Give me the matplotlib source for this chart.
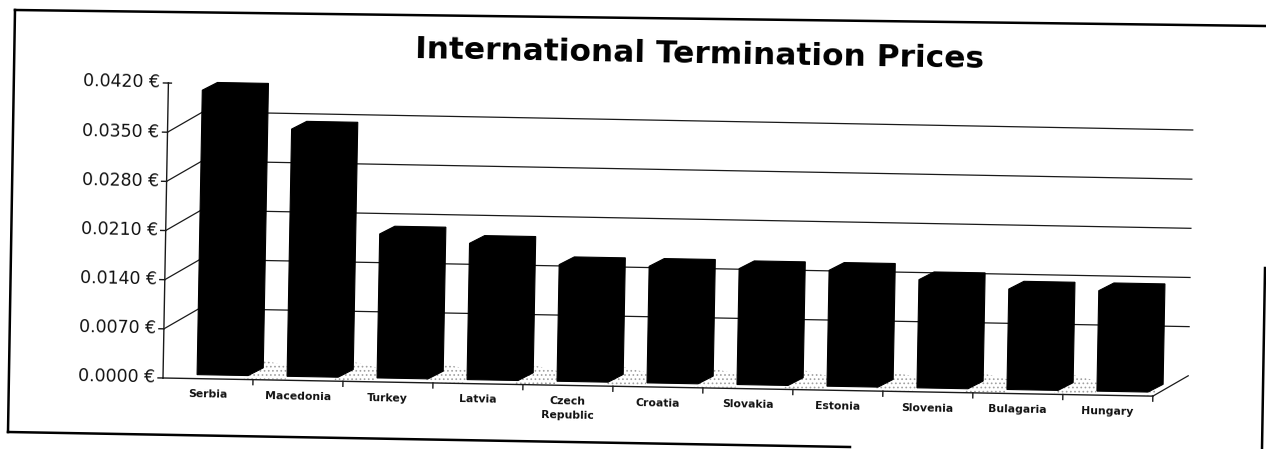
import matplotlib
matplotlib.use('Agg')
import matplotlib.pyplot as plt
from matplotlib.patches import Polygon
from matplotlib.lines import Line2D
from matplotlib.transforms import Affine2D

# ---------------- data ----------------
categories = ['Serbia', 'Macedonia', 'Turkey', 'Latvia', 'Czech\nRepublic', 'Croatia',
              'Slovakia', 'Estonia', 'Slovenia', 'Bulagaria', 'Hungary']
prices = [0.0405, 0.0352, 0.0205, 0.0194, 0.0166, 0.0166, 0.0165, 0.0165, 0.0154, 0.0143, 0.0143]
y_ticks = [0.0, 0.007, 0.014, 0.021, 0.028, 0.035, 0.042]
y_tick_labels = ['0.0000 €', '0.0070 €', '0.0140 €', '0.0210 €', '0.0280 €', '0.0350 €', '0.0420 €']
title = 'International Termination Prices'

# ---------------- layout / style ----------------
W, H = 1266, 449
fig = plt.figure(figsize=(W / 100, H / 100), dpi=100)
fig.patch.set_facecolor('white')
plt.rcParams['font.family'] = ['DejaVu Sans']
plt.rcParams['hatch.linewidth'] = 0.7

ox, oy = 163, 378          # front-left origin of the plot (image px)
plot_w, plot_h = 990, 295  # px for the category span and for the value range
n = len(categories)
ymax = y_ticks[-1]
ax = fig.add_axes([ox / W, (H - oy) / H, plot_w / W, plot_h / H])
ax.set_xlim(0, n)
ax.set_ylim(0, ymax)
ax.axis('off')

px_x = n / plot_w
px_y = ymax / plot_h
ANG = -1.05  # slight tilt of the scanned chart
T = ax.transData + Affine2D().rotate_deg_around(ox, H - oy, ANG)

DX, DY = 35 * px_x, 21 * px_y        # depth of floor / walls
line_c = '#1a1a1a'

def seg(x0, y0, x1, y1, lw=0.9, c=line_c, z=2):
    ax.add_line(Line2D([x0, x1], [y0, y1], transform=T, color=c, lw=lw,
                       clip_on=False, zorder=z))

# stippled floor shadow between the bars
bar_left, bar_w = 0.378, 0.567
base = 4 * px_y
bdx, bdy = 15 * px_x, 8 * px_y
for i in range(n):
    xs = i + bar_left + bar_w
    xe = min(xs + bdx + 0.25, n + 0.02)
    ax.add_patch(Polygon([(xs - 0.05, 0.6 * px_y), (xe, 0.6 * px_y),
                          (xe + 0.03, base + bdy + 2 * px_y),
                          (xs + bdx - 0.02, base + bdy + 8 * px_y)],
                         closed=True, transform=T, fc='none', ec='#a0a0a0', lw=0,
                         hatch='....', clip_on=False, zorder=1))

# back wall gridlines and left wall diagonals
for v in y_ticks[1:-1]:
    seg(DX, v + DY, n + DX, v + DY)
    seg(0, v, DX, v + DY)
# right floor edge
seg(n, 0, n + DX, DY)
# front axes
seg(0, 0, 0, ymax, lw=1.0, z=4)
seg(0, 0, n, 0, lw=1.0, z=4)
for v in y_ticks:
    seg(-5 * px_x, v, 0, v, lw=1.0, z=4)
seg(0, ymax, 3 * px_x, ymax, lw=1.0, z=4)
for i in range(1, n + 1):
    seg(i, 0, i, -5 * px_y, lw=1.0, z=4)

# bars (3D-looking prisms)
for i, v in enumerate(prices):
    x0 = i + bar_left
    x1 = x0 + bar_w
    verts = [(x0, base), (x0, base + v), (x0 + bdx, base + v + bdy),
             (x1 + bdx, base + v + bdy), (x1 + bdx, base + bdy), (x1, base)]
    ax.add_patch(Polygon(verts, closed=True, transform=T, fc='black', ec='black',
                         lw=0.8, clip_on=False, zorder=3))

# tick labels
for v, lab in zip(y_ticks, y_tick_labels):
    ax.text(-8 * px_x, v, lab, transform=T, ha='right', va='center', fontsize=12.5,
            color='#111111', rotation=ANG, rotation_mode='anchor')
for i, lab in enumerate(categories):
    ax.text(i + 0.5, -11 * px_y, lab, transform=T, ha='center', va='top', fontsize=7.8,
            fontweight='bold', color='#111111', rotation=ANG, rotation_mode='anchor',
            linespacing=1.45, multialignment='center')

# title
fig.text(700 / W, 1 - 54 / H, title, ha='center', va='center', fontsize=22.5,
         fontweight='bold', color='black', rotation=-1.0, rotation_mode='anchor')

# scanned frame border
def fline(p, q, lw=1.8):
    fig.add_artist(Line2D([p[0] / W, q[0] / W], [1 - p[1] / H, 1 - q[1] / H],
                          transform=fig.transFigure, color='black', lw=lw))

fline((15, 10), (1266, 26))
fline((15, 10), (8, 432))
fline((8, 432), (850, 447))
fline((1265, 268), (1262, 449))

fig.savefig('out.png', dpi=100, facecolor='white')
